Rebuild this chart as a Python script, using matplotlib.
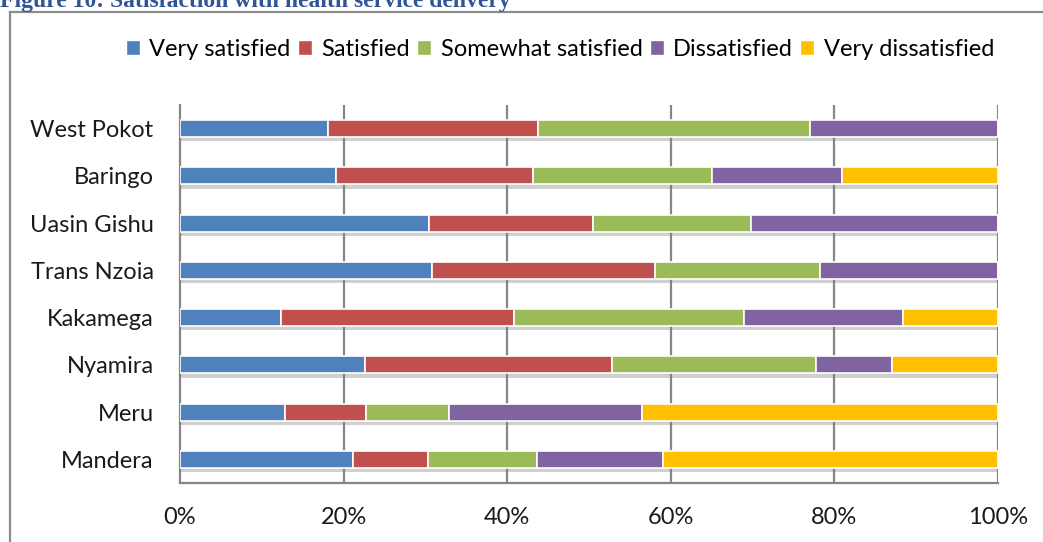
import matplotlib
matplotlib.use("Agg")
import matplotlib.pyplot as plt
import matplotlib.patheffects as pe
from matplotlib.patches import Patch
from matplotlib.lines import Line2D
import numpy as np

plt.rcParams['font.family'] = ['Lato', 'DejaVu Sans']

counties = ["West Pokot", "Baringo", "Uasin Gishu", "Trans Nzoia",
            "Kakamega", "Nyamira", "Meru", "Mandera"]
categories = ["Very satisfied", "Satisfied", "Somewhat satisfied",
              "Dissatisfied", "Very dissatisfied"]
very_satisfied    = [18.1, 19.1, 30.4, 30.8, 12.4, 22.6, 12.8, 21.1]
satisfied         = [25.7, 24.0, 20.1, 27.3, 28.4, 30.2,  9.9,  9.2]
somewhat_satisfied= [33.2, 21.9, 19.3, 20.1, 28.2, 24.9, 10.2, 13.4]
dissatisfied      = [23.0, 15.9, 30.2, 21.8, 19.4,  9.3, 23.6, 15.4]
very_dissatisfied = [ 0.0, 19.1,  0.0,  0.0, 11.6, 13.0, 43.5, 40.9]
xticks = [0, 20, 40, 60, 80, 100]
xtick_labels = ["0%", "20%", "40%", "60%", "80%", "100%"]
title = "Figure 10: Satisfaction with health service delivery"

colors = ["#4F81BD", "#C0504D", "#9BBB59", "#8064A2", "#FFC000"]
series = [very_satisfied, satisfied, somewhat_satisfied, dissatisfied, very_dissatisfied]

W, H = 1043, 542
FS = 17
fig = plt.figure(figsize=(W / 100, H / 100), dpi=100)
ax = fig.add_axes([180 / W, 1 - 483 / H, (998 - 180) / W, (483 - 105) / H])

y = np.arange(len(counties))[::-1]
left = np.zeros(len(counties))
shadow = [pe.SimplePatchShadow(offset=(0, -3), shadow_rgbFace='#7a7a7a', alpha=0.35), pe.Normal()]
for vals, col, name in zip(series, colors, categories):
    vals = np.array(vals)
    bars = ax.barh(y, vals, left=left, height=0.36, color=col, edgecolor='white',
                   linewidth=1.2, label=name, zorder=3)
    for b in bars:
        b.set_path_effects(shadow)
    left += vals

ax.set_xlim(0, 100)
ax.set_ylim(-0.5, len(counties) - 0.5)
ax.set_yticks(y)
ax.set_yticklabels(counties, fontsize=FS, color='#1a1a1a')
ax.set_xticks(xticks)
ax.set_xticklabels(xtick_labels, fontsize=FS, color='#1a1a1a')
ax.tick_params(axis='both', length=0)
ax.tick_params(axis='x', pad=17)
ax.tick_params(axis='y', pad=19)
for xv in xticks[1:]:
    ax.axvline(xv, color='#868686', linewidth=1.6, zorder=1)
for s in ['top', 'right']:
    ax.spines[s].set_visible(False)
for s in ['left', 'bottom']:
    ax.spines[s].set_color('#868686')
    ax.spines[s].set_linewidth(1.6)

handles = [Patch(facecolor=c, edgecolor='white', label=n) for c, n in zip(colors, categories)]
fig.legend(handles=handles, loc='center', bbox_to_anchor=(560 / W, 1 - 49 / H),
           ncol=5, frameon=False, fontsize=FS, handlelength=0.6, handleheight=0.6,
           handletextpad=0.4, columnspacing=0.3)

# outer frame
fig.add_artist(Line2D([10 / W, 10 / W], [0, 1 - 12 / H], transform=fig.transFigure,
                      color='#8c8c8c', linewidth=1.6))
fig.add_artist(Line2D([10 / W, 1], [1 - 12 / H, 1 - 12 / H], transform=fig.transFigure,
                      color='#8c8c8c', linewidth=1.6))

# clipped caption at top
fig.text(0 / W, 1 - 7 / H, title, fontsize=17, fontweight='bold',
         family=['Liberation Serif', 'DejaVu Serif'], color='#2F5596', va='baseline', ha='left')

fig.savefig("out.png", dpi=100)
